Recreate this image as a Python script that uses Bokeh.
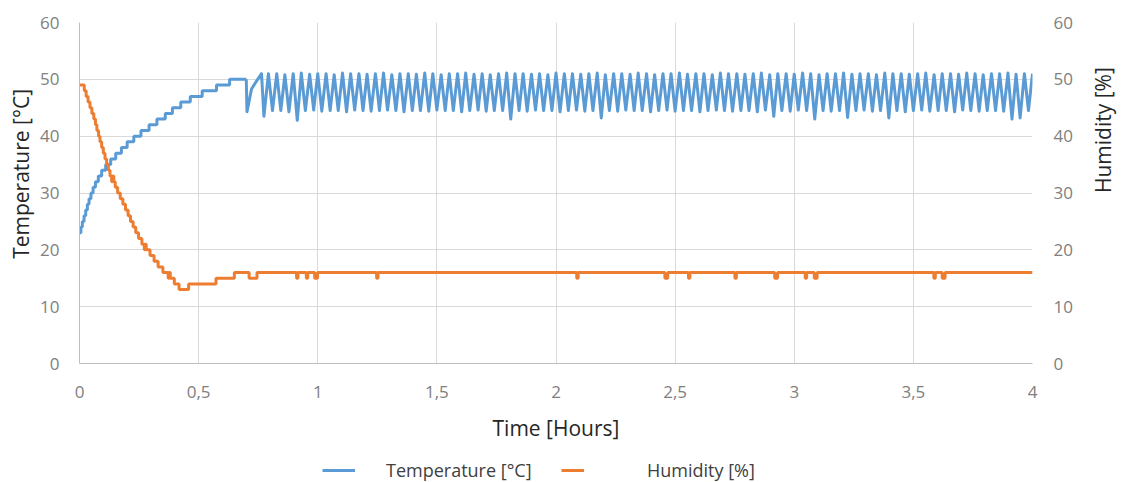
import math
import numpy as np
from bokeh.plotting import figure
from bokeh.layouts import column
from bokeh.models import (Range1d, LinearAxis, FixedTicker, CustomJSTickFormatter,
                          Legend, LegendItem)
from bokeh.embed import file_html
from bokeh.resources import INLINE

# ---------------- data ----------------
x_ticks = [0, 0.5, 1, 1.5, 2, 2.5, 3, 3.5, 4]
y_ticks = [0, 10, 20, 30, 40, 50, 60]

# temperature warm-up (stepped, 1 degC resolution)
warm_time = [0.000, 0.006, 0.012, 0.019, 0.026, 0.033, 0.040, 0.048, 0.057, 0.067,
             0.079, 0.093, 0.110, 0.131, 0.152, 0.176, 0.200, 0.228, 0.258, 0.292,
             0.325, 0.360, 0.390, 0.425, 0.465, 0.515, 0.575, 0.630, 0.700]
warm_temp = [23, 24, 25, 26, 27, 28, 29, 30, 31, 32,
             33, 34, 35, 36, 37, 38, 39, 40, 41, 42,
             43, 44, 45, 46, 47, 48, 49, 50, 50]

# start of thermostat cycling
early_time = [0.700, 0.703, 0.722, 0.740, 0.764, 0.774, 0.793, 0.810]
early_temp = [50.0, 44.3, 48.3, 49.5, 51.0, 43.5, 51.0, 44.5]

peak_time = [0.828, 0.862, 0.897, 0.931, 0.966, 1.000, 1.035, 1.069, 1.104, 1.138,
             1.173, 1.207, 1.242, 1.276, 1.311, 1.345, 1.380, 1.414, 1.449, 1.483,
             1.518, 1.552, 1.587, 1.621, 1.656, 1.690, 1.724, 1.759, 1.793, 1.828,
             1.862, 1.897, 1.931, 1.966, 2.000, 2.035, 2.069, 2.104, 2.138, 2.173,
             2.207, 2.242, 2.276, 2.311, 2.345, 2.380, 2.414, 2.449, 2.483, 2.518,
             2.552, 2.587, 2.621, 2.656, 2.690, 2.724, 2.759, 2.793, 2.828, 2.862,
             2.897, 2.931, 2.966, 3.000, 3.035, 3.069, 3.104, 3.138, 3.173, 3.207,
             3.242, 3.276, 3.311, 3.345, 3.380, 3.414, 3.449, 3.483, 3.518, 3.552,
             3.587, 3.621, 3.656, 3.690, 3.724, 3.759, 3.793, 3.828, 3.862, 3.897,
             3.931, 3.966, 4.000]
peak_temp = [51.0, 50.8, 51.0, 51.1, 50.9, 51.0, 51.0, 50.8, 51.1, 51.0,
             51.0, 50.9, 51.0, 51.1, 50.8, 51.0, 51.0, 50.9, 51.1, 51.0,
             50.8, 51.0, 51.0, 51.1, 50.9, 51.0, 50.8, 51.0, 51.1, 51.0,
             51.0, 50.9, 51.0, 50.8, 51.1, 51.0, 51.0, 50.9, 51.0, 51.1,
             50.8, 51.0, 51.0, 50.9, 51.1, 51.0, 50.8, 51.0, 51.0, 51.1,
             50.9, 51.0, 51.0, 50.8, 51.1, 51.0, 51.0, 50.9, 51.0, 51.1,
             50.8, 51.0, 51.0, 50.9, 51.1, 51.0, 50.8, 51.0, 51.0, 51.1,
             50.9, 51.0, 51.0, 50.8, 51.1, 51.0, 51.0, 50.9, 51.0, 51.1,
             50.8, 51.0, 51.0, 50.9, 51.1, 51.0, 50.8, 51.0, 51.0, 51.1,
             50.9, 51.0, 51.0]

trough_time = [0.845, 0.879, 0.914, 0.948, 0.983, 1.017, 1.052, 1.086, 1.121, 1.155,
               1.190, 1.224, 1.259, 1.293, 1.328, 1.362, 1.397, 1.431, 1.466, 1.500,
               1.535, 1.569, 1.604, 1.638, 1.673, 1.707, 1.741, 1.776, 1.810, 1.845,
               1.879, 1.914, 1.948, 1.983, 2.017, 2.052, 2.086, 2.121, 2.155, 2.190,
               2.224, 2.259, 2.293, 2.328, 2.362, 2.397, 2.431, 2.466, 2.500, 2.535,
               2.569, 2.604, 2.638, 2.673, 2.707, 2.741, 2.776, 2.810, 2.845, 2.879,
               2.914, 2.948, 2.983, 3.017, 3.052, 3.086, 3.121, 3.155, 3.190, 3.224,
               3.259, 3.293, 3.328, 3.362, 3.397, 3.431, 3.466, 3.500, 3.535, 3.569,
               3.604, 3.638, 3.673, 3.707, 3.741, 3.776, 3.810, 3.845, 3.879, 3.914,
               3.948, 3.983]
trough_temp = [44.5, 44.3, 42.8, 44.5, 44.6, 44.4, 44.5, 44.5, 44.3, 44.6,
               44.5, 44.4, 44.5, 44.6, 44.5, 44.3, 44.5, 44.5, 44.4, 44.6,
               44.5, 44.5, 44.3, 44.5, 44.6, 44.4, 44.5, 44.5, 43.0, 44.5,
               44.4, 44.6, 44.5, 44.5, 44.3, 44.5, 44.6, 44.4, 44.5, 43.2,
               44.5, 44.4, 44.6, 44.5, 44.5, 44.3, 44.5, 44.6, 44.4, 44.5,
               44.5, 44.3, 44.5, 44.6, 44.5, 44.4, 44.5, 44.5, 44.3, 44.6,
               43.5, 44.5, 44.4, 44.6, 44.5, 43.0, 44.5, 44.4, 44.5, 43.3,
               44.5, 44.6, 44.4, 44.5, 43.2, 44.5, 44.3, 44.5, 44.6, 44.4,
               44.5, 44.5, 44.3, 44.6, 44.5, 44.4, 44.5, 44.5, 44.4, 43.0,
               43.2, 44.5]

# humidity (stepped, 1 % resolution)
hum_time = [0.000, 0.020, 0.028, 0.036, 0.044, 0.052, 0.060, 0.067, 0.073, 0.080,
            0.086, 0.093, 0.100, 0.107, 0.114, 0.121, 0.128, 0.135, 0.139, 0.144,
            0.150, 0.160, 0.171, 0.182, 0.193, 0.204, 0.214, 0.225, 0.236, 0.248,
            0.262, 0.272, 0.276, 0.280, 0.296, 0.313, 0.330, 0.350, 0.372, 0.376,
            0.381, 0.398, 0.418, 0.458, 0.573, 0.650, 0.712, 0.745,
            0.911, 0.917, 0.952, 0.958, 0.987, 0.999, 1.247, 1.253,
            2.087, 2.093, 2.457, 2.469, 2.556, 2.562, 2.751, 2.757,
            2.918, 2.930, 3.046, 3.052, 3.084, 3.096, 3.586, 3.592,
            3.621, 3.633, 4.000]
hum_value = [49, 48, 47, 46, 45, 44, 43, 42, 41, 40,
             39, 38, 37, 36, 35, 34, 33, 32, 33, 32,
             31, 30, 29, 28, 27, 26, 25, 24, 23, 22,
             21, 20, 21, 20, 19, 18, 17, 16, 15, 16,
             15, 14, 13, 14, 15, 16, 15, 16,
             15, 16, 15, 16, 15, 16, 15, 16,
             15, 16, 15, 16, 15, 16, 15, 16,
             15, 16, 15, 16, 15, 16, 15, 16,
             15, 16, 16]

BLUE = "#5B9BD5"
ORANGE = "#ED7D31"
FONT = "Open Sans"
NB = "\u00a0"

osc_t = np.array(early_time + peak_time + trough_time)
osc_v = np.array(early_temp + peak_temp + trough_temp)
order = np.argsort(osc_t, kind="stable")
osc_t, osc_v = osc_t[order], osc_v[order]

# ---------------- main figure ----------------
p = figure(width=1133, height=450, output_backend="svg", toolbar_location=None,
           x_range=Range1d(0, 4), y_range=Range1d(0, 60),
           min_border_left=79, min_border_right=91, min_border_top=22,
           min_border_bottom=87)
p.extra_y_ranges = {"hum": Range1d(0, 60)}
p.outline_line_color = None
p.background_fill_color = "white"
p.border_fill_color = "white"

def style_axis(ax, label):
    ax.axis_label = label
    ax.axis_label_text_font = FONT
    ax.axis_label_text_font_size = "21px"
    ax.axis_label_text_font_style = "normal"
    ax.axis_label_text_color = "#262626"
    ax.major_label_text_font = FONT
    ax.major_label_text_font_size = "17px"
    ax.major_label_text_color = "#808080"
    ax.major_tick_line_color = None
    ax.minor_tick_line_color = None
    ax.major_tick_out = 0
    ax.major_tick_in = 0
    ax.axis_line_color = "#bfbfbf"

style_axis(p.xaxis[0], "Time [Hours]")
p.xaxis[0].ticker = FixedTicker(ticks=x_ticks)
p.xaxis[0].formatter = CustomJSTickFormatter(code="return tick.toString().replace('.', ',');")
p.xaxis[0].major_label_standoff = 22
p.xaxis[0].axis_label_standoff = 13

style_axis(p.yaxis[0], NB * 7 + "Temperature [°C]")
p.yaxis[0].ticker = FixedTicker(ticks=y_ticks)
p.yaxis[0].major_label_standoff = 20
p.yaxis[0].axis_label_standoff = 2

# right (humidity) axis, title reading bottom-to-top like the reference
ax_r = LinearAxis(y_range_name="hum", ticker=FixedTicker(ticks=y_ticks))
style_axis(ax_r, "Humidity [%]")
ax_r.axis_label_orientation = math.pi / 2
ax_r.axis_line_color = None
ax_r.major_label_standoff = 21
ax_r.axis_label_standoff = 27
p.add_layout(ax_r, "right")

p.xgrid.ticker = FixedTicker(ticks=x_ticks)
p.ygrid.ticker = FixedTicker(ticks=y_ticks)
p.xgrid.grid_line_color = "#d9d9d9"
p.ygrid.grid_line_color = "#d9d9d9"

r_warm = p.step(warm_time, warm_temp, mode="after", line_color=BLUE, line_width=3)
r_osc = p.line(osc_t, osc_v, line_color=BLUE, line_width=3, line_join="round")
r_hum = p.step(hum_time, hum_value, mode="after", line_color=ORANGE, line_width=3,
               y_range_name="hum")

# ---------------- legend strip (frames aligned with the chart) ----------------
pl = figure(width=1133, height=32, output_backend="svg", toolbar_location=None,
            x_range=Range1d(0, 1), y_range=Range1d(0, 1), min_border=0)
pl.axis.visible = False
pl.grid.visible = False
pl.outline_line_color = None
# off-range sample points: only the legend swatches are visible
lt = pl.line([-2, -1], [-2, -2], line_color=BLUE, line_width=3)
lh = pl.line([-2, -1], [-2, -2], line_color=ORANGE, line_width=3)

def make_legend(label, rend, loc, gw, standoff):
    lg = Legend(items=[LegendItem(label=label, renderers=[rend])], location=loc,
                orientation="horizontal", glyph_width=gw, glyph_height=20,
                label_height=20, label_standoff=standoff, padding=0, margin=0,
                spacing=0, border_line_color=None, background_fill_alpha=0,
                label_text_font=FONT, label_text_font_size="18px",
                label_text_color="#404040")
    pl.add_layout(lg, "center")

make_legend("Temperature [°C]", lt, (243, 0), 33, 31)
make_legend("Humidity [%]", lh, (482, 0), 23, 63)

layout = column(p, pl, spacing=0)
open("out.html", "w").write(file_html(layout, INLINE))
